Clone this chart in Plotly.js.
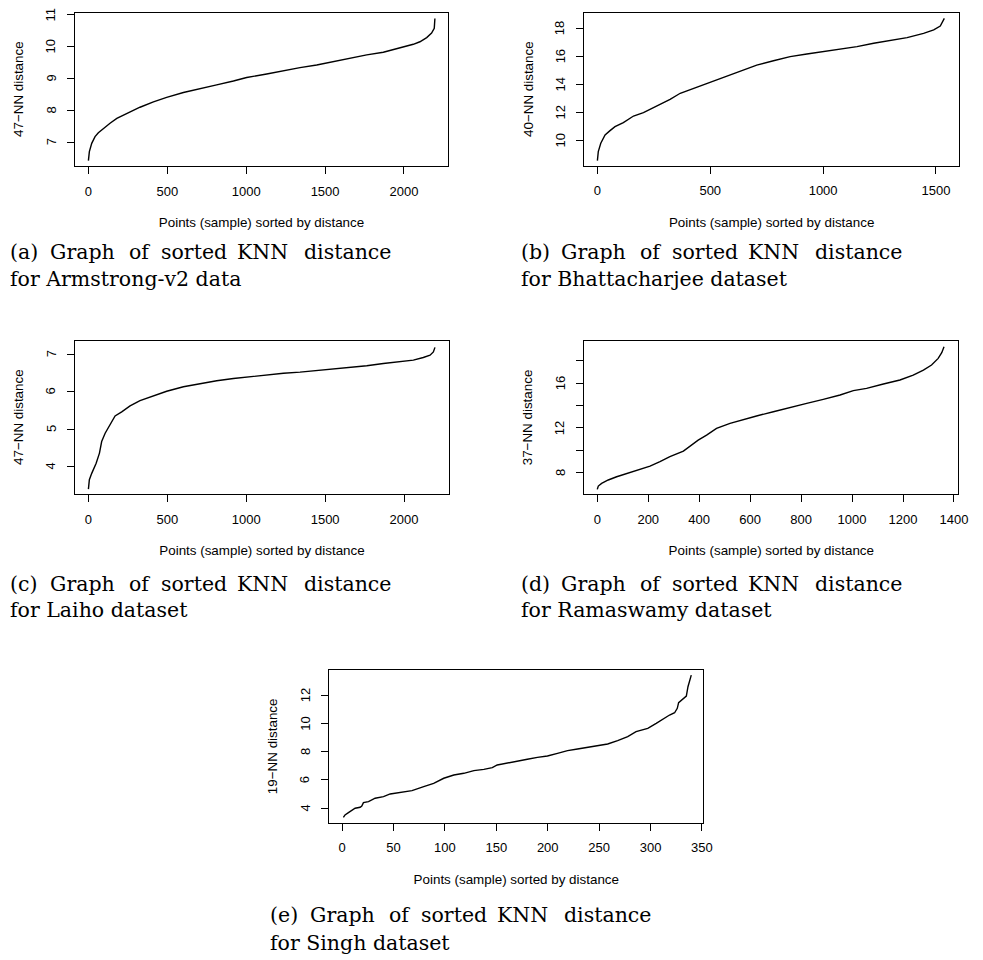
<!DOCTYPE html>
<html><head><meta charset="utf-8">
<script src="https://cdn.plot.ly/plotly-3.0.1.min.js"></script>
<style>body{margin:0;background:#fff}</style>
</head><body><div id="chart" style="width:983px;height:960px"></div>
<script>
// ---- data ----
const armstrongX = [0,6,21,42,63,95,137,180,243,327,412,496,602,708,813,919,1003,1130,1236,1341,1447,1552,1658,1764,1869,1975,2059,2101,2144,2175,2192,2196];
const armstrongY = [6.43,6.71,6.97,7.18,7.30,7.44,7.60,7.75,7.91,8.10,8.27,8.41,8.56,8.69,8.80,8.92,9.03,9.14,9.25,9.34,9.42,9.53,9.63,9.74,9.82,9.95,10.07,10.15,10.28,10.42,10.57,10.88];

const bhattX = [0,4,15,34,56,78,115,160,204,263,322,367,426,500,559,633,706,780,854,928,1002,1076,1150,1224,1298,1372,1445,1490,1519,1534,1537];
const bhattY = [8.55,9.19,9.79,10.38,10.69,10.97,11.26,11.73,11.97,12.44,12.92,13.35,13.70,14.18,14.49,14.96,15.36,15.67,15.96,16.15,16.31,16.48,16.67,16.91,17.10,17.31,17.62,17.86,18.14,18.52,18.69];

const laihoX = [0,6,21,49,70,84,106,137,169,211,264,327,391,496,602,708,813,919,1024,1130,1236,1341,1447,1552,1658,1764,1869,1975,2059,2122,2165,2186,2196];
const laihoY = [3.40,3.65,3.82,4.09,4.36,4.67,4.89,5.11,5.35,5.46,5.62,5.76,5.86,6.01,6.13,6.22,6.29,6.35,6.40,6.44,6.49,6.52,6.56,6.60,6.64,6.69,6.75,6.80,6.84,6.91,6.97,7.06,7.18];

const ramaX = [0,4,17,43,76,128,167,207,246,285,338,364,396,429,468,521,573,625,691,756,822,887,953,1005,1057,1123,1188,1240,1280,1312,1338,1352,1361];
const ramaY = [6.51,6.81,7.05,7.35,7.64,8.00,8.30,8.59,8.98,9.43,9.93,10.38,10.91,11.36,11.96,12.40,12.76,13.06,13.44,13.83,14.19,14.54,14.93,15.32,15.52,15.91,16.27,16.71,17.16,17.61,18.20,18.71,19.24];

const singhX = [1.3,2.9,6.2,9.4,12.7,17.6,19.2,20.8,25.7,32.2,40.3,46.8,56.6,68,79.4,89.1,98.9,108.7,118.4,128.2,137.9,146.1,150.9,160.7,170.5,180.2,190,199.7,209.5,219.3,229,238.8,248.5,258.3,268,277.8,285.9,297.3,305.5,313.6,318.5,323.4,326,327.3,331.5,334.8,336.4,338,339.6];
const singhY = [3.36,3.53,3.69,3.84,4.00,4.07,4.16,4.40,4.47,4.71,4.82,5.01,5.13,5.25,5.53,5.76,6.12,6.35,6.47,6.66,6.75,6.87,7.06,7.18,7.29,7.46,7.60,7.69,7.88,8.07,8.19,8.31,8.42,8.54,8.78,9.06,9.41,9.65,10.00,10.40,10.59,10.75,11.06,11.46,11.76,11.93,12.59,12.94,13.41];

const xTicksA = [0,500,1000,1500,2000];
const yTicksA = [7,8,9,10,11];
const xTicksB = [0,500,1000,1500];
const yTicksB = [10,12,14,16,18];
const xTicksC = [0,500,1000,1500,2000];
const yTicksC = [4,5,6,7];
const xTicksD = [0,200,400,600,800,1000,1200,1400];
const yTicksD = [8,10,12,14,16,18];
const yLabelsD = ['8','','12','','16',''];
const xTicksE = [0,50,100,150,200,250,300,350];
const yTicksE = [4,6,8,10,12];

const yTitles = ['47\u2212NN distance','40\u2212NN distance','47\u2212NN distance','37\u2212NN distance','19\u2212NN distance'];
const xTitle = 'Points (sample) sorted by distance';
const capLetters = ['(a)','(b)','(c)','(d)','(e)'];
const capWords = ['Graph','of','sorted','KNN','distance'];
const capLine2 = ['for Armstrong-v2 data','for Bhattacharjee dataset','for Laiho dataset','for Ramaswamy dataset','for Singh dataset'];

// ---- layout geometry (pixels) ----
const W = 983, H = 960;
const panels = [
  {l:75, r:448, t:13, b:166, xr:[-85,2279], yr:[6.26,11.05], xt:xTicksA, yt:yTicksA, yl:null, xs:armstrongX, ys:armstrongY, cx:8, cb:[259.5,286]},
  {l:584.3, r:959, t:12.7, b:165.7, xr:[-58,1602], yr:[8.19,19.09], xt:xTicksB, yt:yTicksB, yl:null, xs:bhattX, ys:bhattY, cx:519, cb:[259.5,286]},
  {l:75, r:449, t:341, b:494, xr:[-85,2285], yr:[3.27,7.35], xt:xTicksC, yt:yTicksC, yl:null, xs:laihoX, ys:laihoY, cx:8, cb:[590.5,617]},
  {l:584.3, r:958.3, t:341, b:494, xr:[-51,1417], yr:[6.10,19.75], xt:xTicksD, yt:yTicksD, yl:yLabelsD, xs:ramaX, ys:ramaY, cx:519, cb:[590.5,617]},
  {l:329.3, r:703.3, t:670, b:822.7, xr:[-12.4,351.3], yr:[2.98,13.77], xt:xTicksE, yt:yTicksE, yl:null, xs:singhX, ys:singhY, cx:268, cb:[922,950]}
];
const wordOffsets = [0,40,119.4,150.7,227.4,294];

const sans = 'Liberation Sans, Arial, Helvetica, sans-serif';
const serif = 'DejaVu Serif, serif';
const traces = [];
const layout = {
  width: W, height: H, margin:{l:0,r:0,t:0,b:0},
  paper_bgcolor:'#fff', plot_bgcolor:'#fff', showlegend:false,
  annotations: []
};

panels.forEach((p, i) => {
  const n = i === 0 ? '' : String(i+1);
  traces.push({type:'scatter', mode:'lines', x:p.xs, y:p.ys, xaxis:'x'+n, yaxis:'y'+n,
    line:{color:'#000', width:1.4}, hoverinfo:'skip'});
  const common = {showline:true, mirror:true, linecolor:'#000', linewidth:1,
    ticks:'outside', ticklen:7, tickcolor:'#000', tickwidth:1, showgrid:false, zeroline:false,
    tickmode:'array', fixedrange:true, automargin:false,
    tickfont:{family:sans, size:13, color:'#000'}};
  layout['xaxis'+n] = Object.assign({}, common, {
    domain:[p.l/W, p.r/W], range:p.xr, tickvals:p.xt, ticktext:p.xt.map(String),
    anchor:'y'+n, ticklabelstandoff:6,
    title:{text:xTitle, font:{family:sans, size:13.4, color:'#000'}, standoff:20}
  });
  layout['yaxis'+n] = Object.assign({}, common, {
    domain:[1-p.b/H, 1-p.t/H], range:p.yr, tickvals:p.yt, showticklabels:false,
    anchor:'x'+n
  });
  // rotated y tick labels (placed on the y scale)
  const ylab = p.yl ? p.yl : p.yt.map(String);
  p.yt.forEach((v, k) => {
    if (!ylab[k]) return;
    layout.annotations.push({xref:'paper', yref:'y'+n, x:(p.l-24)/W, y:v,
      xanchor:'center', yanchor:'middle', textangle:-90, showarrow:false, text:ylab[k],
      font:{family:sans, size:13, color:'#000'}});
  });
  // y axis title
  layout.annotations.push({xref:'paper', yref:'paper', x:(p.l-56.5)/W, y:1-((p.t+p.b)/2)/H,
    xanchor:'center', yanchor:'middle', textangle:-90, showarrow:false, text:yTitles[i],
    font:{family:sans, size:13.4, color:'#000'}});
  // captions
  const words = [capLetters[i]].concat(capWords);
  words.forEach((w, k) => {
    layout.annotations.push({xref:'paper', yref:'paper', x:(p.cx+wordOffsets[k])/W, y:1-(p.cb[0]-7)/H,
      xanchor:'left', yanchor:'middle', showarrow:false, text:w,
      font:{family:serif, size:20.5, color:'#000'}});
  });
  layout.annotations.push({xref:'paper', yref:'paper', x:p.cx/W, y:1-(p.cb[1]-7)/H,
    xanchor:'left', yanchor:'middle', showarrow:false, text:capLine2[i],
    font:{family:serif, size:20.5, color:'#000'}});
});

Plotly.newPlot('chart', traces, layout, {staticPlot:true, displayModeBar:false});
</script></body></html>
